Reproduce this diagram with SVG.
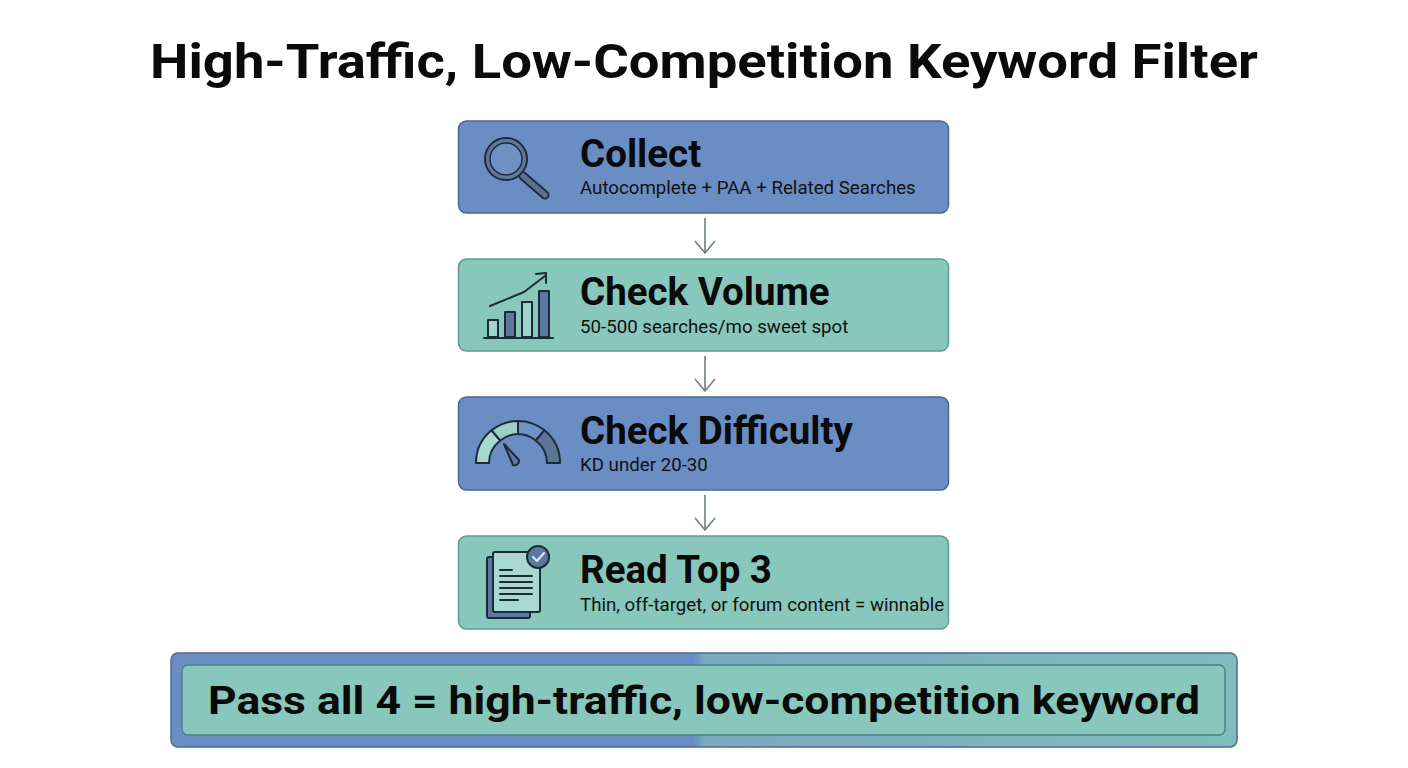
<svg xmlns="http://www.w3.org/2000/svg" width="1408" height="768" viewBox="0 0 1408 768">
<defs>
<style>
.title{font-family:Roboto,"Liberation Sans",sans-serif;font-weight:700;fill:#0a0a0a}
.h{font-family:Roboto,"Liberation Sans",sans-serif;font-weight:700;font-size:38.5px;fill:#0a0a0a}
.s{font-family:Roboto,"Liberation Sans",sans-serif;font-size:18.7px;fill:#111}
.blue{fill:#6a8ec3;stroke:#4b6891;stroke-width:1.5}
.teal{fill:#88c7bc;stroke:#5f9a92;stroke-width:1.5}
.ic{stroke:#1d2a3a;stroke-width:2;stroke-linejoin:round;stroke-linecap:round}
.conn{stroke:#6b7d92;stroke-width:1.6;fill:none}
</style>
<marker id="ah" viewBox="0 0 14 22" refX="13" refY="11" markerWidth="14" markerHeight="22" markerUnits="userSpaceOnUse" orient="auto">
<path d="M1,1 L13,11 L1,21" fill="none" stroke="#6b7d92" stroke-width="1.6"/>
</marker>
<linearGradient id="bar" x1="0" x2="1" y1="0" y2="0">
<stop offset="0" stop-color="#6a8ec3"/>
<stop offset="0.49" stop-color="#6a8ec3"/>
<stop offset="0.5" stop-color="#78a9c0"/>
<stop offset="1" stop-color="#7fbcbc"/>
</linearGradient>
</defs>
<rect width="1408" height="768" fill="#ffffff"/>
<text class="title" x="704" y="78" font-size="49" text-anchor="middle" textLength="1108" lengthAdjust="spacingAndGlyphs">High-Traffic, Low-Competition Keyword Filter</text>

<g id="connectors">
<line class="conn" x1="705" y1="218" x2="705" y2="253" marker-end="url(#ah)"/>
<line class="conn" x1="705" y1="356" x2="705" y2="391" marker-end="url(#ah)"/>
<line class="conn" x1="705" y1="495" x2="705" y2="530" marker-end="url(#ah)"/>
</g>

<g id="collect">
<rect class="blue" x="458.5" y="121" width="490" height="92" rx="8"/>
<g class="ic">
<line x1="523" y1="176" x2="545" y2="195" stroke="#1d2a3a" stroke-width="9"/>
<line x1="523" y1="176" x2="545" y2="195" stroke="#5d7290" stroke-width="5.5"/>
<circle cx="506" cy="159" r="21" fill="#5d7a9e" stroke="#1d2a3a" stroke-width="2"/>
<circle cx="506" cy="159" r="16" fill="#6f92c2" stroke="#1d2a3a" stroke-width="1.5"/>
</g>
<text class="h" x="580" y="167">Collect</text>
<text class="s" x="580" y="194">Autocomplete + PAA + Related Searches</text>
</g>

<g id="volume">
<rect class="teal" x="458.5" y="259" width="490" height="92" rx="8"/>
<g class="ic">
<rect x="488" y="320" width="10" height="17" fill="#9fd4ca"/>
<rect x="505" y="312" width="10" height="25" fill="#5b789f"/>
<rect x="522" y="302" width="10" height="35" fill="#9fd4ca"/>
<rect x="539" y="291" width="10" height="46" fill="#5b789f"/>
<line x1="484" y1="338" x2="553" y2="338"/>
<polyline points="490,306 524,292 545,276" fill="none"/>
<polyline points="536,274 546,273 546,283" fill="none"/>
</g>
<text class="h" x="580" y="305">Check Volume</text>
<text class="s" x="580" y="333">50-500 searches/mo sweet spot</text>
</g>

<g id="difficulty">
<rect class="blue" x="458.5" y="397" width="490" height="93" rx="8"/>
<g class="ic" stroke-width="1.8">
<path d="M476,463 A42,42 0 0 1 491.6,430.3 L500.3,440.5 A29,29 0 0 0 489,463 Z" fill="#a6d6cc"/>
<path d="M491.6,430.3 A42,42 0 0 1 518,421 L518,434 A29,29 0 0 0 500.3,440.5 Z" fill="#9ccfc4"/>
<path d="M518,421 A42,42 0 0 1 544.4,430.3 L535.7,440.5 A29,29 0 0 0 518,434 Z" fill="#6f93c4"/>
<path d="M544.4,430.3 A42,42 0 0 1 560,463 L547,463 A29,29 0 0 0 535.7,440.5 Z" fill="#5c7697"/>
<path d="M504,444 L519,460 A4.5,4.5 0 0 1 513,465 Z" fill="#5b789f"/>
</g>
<text class="h" x="580" y="444">Check Difficulty</text>
<text class="s" x="580" y="471">KD under 20-30</text>
</g>

<g id="readtop">
<rect class="teal" x="458.5" y="536" width="490" height="93" rx="8"/>
<g class="ic">
<rect x="487" y="557" width="43" height="61" rx="2" fill="#5b789f"/>
<rect x="493" y="552" width="47" height="60" rx="2" fill="#a8d8cf"/>
<line x1="500" y1="570" x2="512" y2="570"/>
<line x1="500" y1="576" x2="532" y2="576"/>
<line x1="500" y1="582" x2="532" y2="582"/>
<line x1="500" y1="588" x2="532" y2="588"/>
<line x1="500" y1="594" x2="532" y2="594"/>
<line x1="500" y1="600" x2="518" y2="600"/>
<circle cx="538" cy="557" r="11" fill="#5b789f"/>
<polyline points="533,557 537,561 544,553" fill="none" stroke="#dfe8f2"/>
</g>
<text class="h" x="580" y="583">Read Top 3</text>
<text class="s" x="580" y="611">Thin, off-target, or forum content = winnable</text>
</g>

<g id="result">
<rect x="171" y="653" width="1066" height="94" rx="7" fill="url(#bar)" stroke="#4d6c8f" stroke-width="1.5"/>
<rect x="182" y="665" width="1043" height="70" rx="6" fill="#88c7bc" stroke="#4f7f84" stroke-width="1.5"/>
<text class="title" x="704" y="714" font-size="39" text-anchor="middle" textLength="992" lengthAdjust="spacingAndGlyphs">Pass all 4 = high-traffic, low-competition keyword</text>
</g>
</svg>
